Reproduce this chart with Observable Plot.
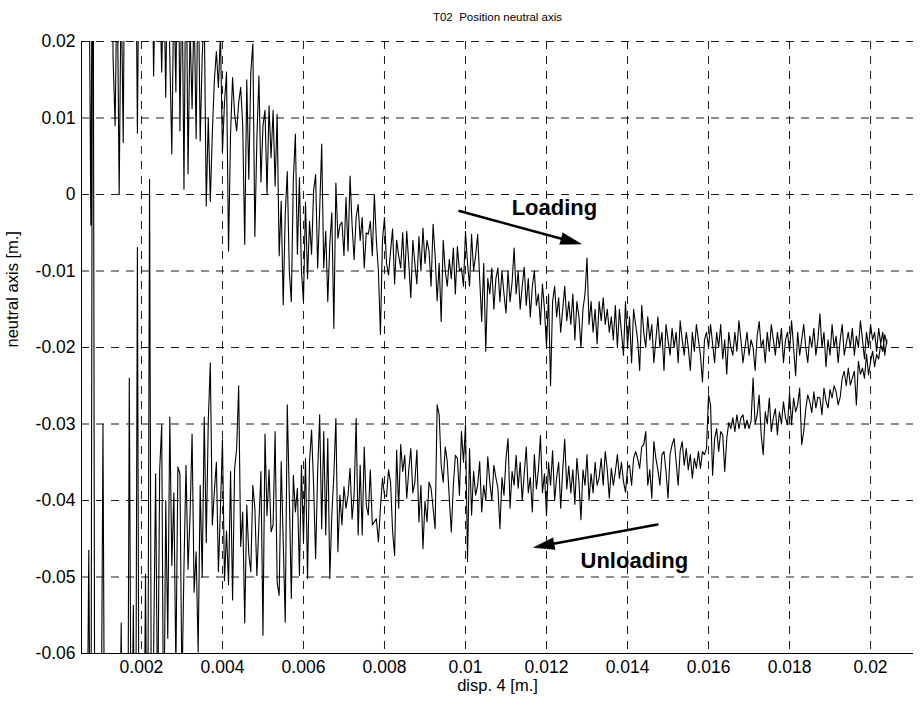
<!DOCTYPE html>
<html><head><meta charset="utf-8">
<script src="https://cdn.jsdelivr.net/npm/d3@7"></script>
<script src="https://cdn.jsdelivr.net/npm/@observablehq/plot@0.6"></script>
<style>body{margin:0;background:#fff}</style>
</head><body><div id="chart"></div>
<script>
// ---- data (values in millimetres) ----
const title = "T02\u00a0 Position neutral axis";
const xLabel = "disp. 4 [m.]";
const yLabel = "neutral axis [m.]";
const xTicks = [0.002, 0.004, 0.006, 0.008, 0.01, 0.012, 0.014, 0.016, 0.018, 0.02];
const xTickLabels = ["0.002", "0.004", "0.006", "0.008", "0.01", "0.012", "0.014", "0.016", "0.018", "0.02"];
const yTicks = [0.02, 0.01, 0, -0.01, -0.02, -0.03, -0.04, -0.05, -0.06];
const yTickLabels = ["0.02", "0.01", "0", "-0.01", "-0.02", "-0.03", "-0.04", "-0.05", "-0.06"];
const xDomain = [0.00052, 0.02106];
const yDomain = [-0.06, 0.02];
// displacement samples: first sample and regular increment (m)
const dispStart = 0.0006;
const dispStep = 0.00005;

const loadingMM = [
  45, 60, 38, -4, 50, 44, 52, 40, 48, 55,
  50, 42, 55, 48, 17.7, 9, 30, 0, 28, 6.8,
  45, 52, 40, 48, 55, 42, 8, 40, 50, 46,
  45, 40, 50, 38, 15.5, 30, 25, 28, 16, 30,
  12.7, 35, 18, 5.3, 28, 13.4, 40, 8.3, 30, 0.7,
  35, 2.7, 22, 11.2, 25, 7.3, 30, 7, 18, 24,
  -1.5, 10, -0.9, 8, 15, 18.7, 14, 21, 5.6, 12,
  16, -7.4, 8, 15.3, 10.5, 8.3, 12, 14, 9, -6.5,
  15, 2, 16, 19.7, -5.5, 7.4, 15.5, 1.6, 9, 11,
  0, 11.6, 4.8, 11, 1.1, 10.5, -8, -0.9, -14.4, -2.6,
  3, -10, -14, 2, 7.9, -7.8, 2.2, -10, -14, -1,
  -11, -3.5, -7.8, 0.5, 2.6, -9.6, -2, 6.6, -9.6, -4.8,
  -14, -6.5, -2.4, -17.5, 1.5, -5.7, -4, -3.6, -8, -0.4,
  -7.4, 2.4, -4, -8.5, -3, -1.3, -6, -3, -9.6, -5,
  -5.2, -3.5, -8, 0, -6, -10, -18.3, -6, -3, -9,
  -10.5, -7.4, -4.5, -11.7, -6, -8, -9.6, -5, -11, -4.8,
  -9, -13.5, -6, -9, -11.7, -5.5, -10, -4.4, -9, -6,
  -7.4, -12, -3.9, -8, -13.9, -9, -16.6, -6, -10, -12,
  -8.5, -11, -7, -13, -6.8, -10, -9.6, -12, -4.8, -9,
  -12, -5.2, -10, -8, -5.2, -11, -16.6, -9, -20.5, -11,
  -13, -9.6, -15, -11, -9.6, -14, -10, -13, -15.5, -10,
  -14, -11.5, -7, -13, -10, -15, -12, -9.5, -14.5, -11,
  -16, -12, -10, -14.5, -13, -17, -11.7, -15, -20, -13,
  -25, -14, -12, -16, -13.5, -18, -15, -12, -16.5, -14,
  -17, -13, -19, -14, -16, -20, -15, -13, -8.3, -17,
  -14, -18, -15, -19.5, -14, -16.5, -13.5, -17, -15, -18,
  -16, -19, -14.5, -20, -15, -18, -21, -14, -20, -16,
  -22, -15, -17, -19, -23, -14.5, -18, -20, -16, -19,
  -17, -22, -19, -16, -20, -18, -23, -17, -19, -21,
  -17.5, -20, -18, -22, -16.5, -19, -21, -18, -20, -23,
  -18, -20.5, -17, -19, -21, -24.5, -19, -18, -20, -17,
  -19.5, -22, -18, -20, -17, -21.5, -19, -23.5, -18, -20,
  -21, -18, -20.5, -16.5, -19, -22, -20, -18, -21, -19,
  -20, -23, -18.5, -16.6, -20, -19, -22, -18, -20.5, -17,
  -19, -21, -18, -20, -17.5, -22, -19, -18, -20.5, -16.5,
  -20, -23.7, -18, -21, -19, -17, -20, -22, -18.5, -20,
  -17.5, -21, -19, -15.6, -20, -18, -22.5, -19, -21, -17,
  -20, -18.5, -22, -19, -17, -21, -19.5, -18, -20, -17.5,
  -21, -18.5, -20, -16.5, -19, -21.5, -18, -20, -17, -19,
  -18, -20.5, -17.5, -19.5, -18, -21, -19
];

// unloading branch, listed in increasing displacement
const unloadingMM = [
  -90, -80, -46.5, -90, 60, -85, -75, -90, -80, -30,
  -90, -85, -95, -80, -88, -92, -85, -80, -56, -90,
  -85, -95, -24, -80, -53.7, -90, -6.9, -95, -70, -85,
  -49.6, -85, 2, -80, -60, -36.5, -70, -36, -30.1, -75,
  -40, -58, -29.1, -48.5, -39, -62, -35.6, -36.5, -65, -48.6,
  -35.4, -49, -42, -31.3, -52, -46.7, -59.8, -38, -50, -29.1,
  -45.5, -29.6, -22, -43.2, -38.8, -35, -49.3, -41, -32.1, -50.5,
  -44, -51, -36.2, -53, -35.8, -33.3, -25, -46, -41.5, -56,
  -40.6, -47, -49.3, -38, -41, -49.8, -43, -36.2, -57.6, -31.3,
  -42, -36, -44.1, -43.2, -31, -50.7, -52.4, -34.9, -45.4, -55.9,
  -27.5, -39.3, -52.8, -36.7, -41.5, -38.4, -49.8, -35.4, -45.4, -34.5,
  -50.2, -34.9, -30.8, -38, -47.6, -36.2, -28.8, -43.7, -31, -44.5,
  -31.9, -50.2, -41.9, -36.7, -29.3, -46.7, -39.3, -43.2, -38.2, -41,
  -39.3, -35.8, -42.4, -39.3, -29.3, -44.5, -35.4, -44.5, -33, -40.6,
  -41.9, -36, -43.2, -42.8, -42.4, -45.4, -41, -37.1, -39.3, -39.5,
  -36, -37.6, -44, -47.2, -33.4, -41, -32.7, -36.2, -34.1, -39.7,
  -36, -33.2, -39, -37.6, -33.4, -42.8, -38, -46.3, -40.1, -42.8,
  -37.6, -38.4, -41, -43.7, -27.5, -28.8, -35.4, -37.6, -33, -34.9,
  -39.7, -44.1, -38, -34.1, -34.5, -39.3, -31, -35, -30.1, -48,
  -33.2, -41.9, -36.2, -39.3, -38, -34.9, -41.5, -38, -40, -34.3,
  -37.6, -40, -35.4, -37, -38.4, -43.7, -37, -39.3, -34.5, -31.9,
  -41, -36.2, -38, -34.1, -38.4, -35, -40, -36.5, -33, -39,
  -37, -41.5, -34, -38.5, -36, -31.5, -39, -36.5, -42, -35,
  -38, -33.5, -40, -37, -35, -41, -36, -32, -38.5, -35.5,
  -39, -36, -40.5, -34.5, -37.5, -42.5, -36, -38, -34, -40,
  -36.5, -39, -35, -38, -37, -34.5, -38, -33.6, -36, -39.7,
  -35.8, -38, -36.2, -34, -37.1, -35, -37.5, -38.9, -35.8, -35.4,
  -38, -34.5, -33.6, -34.5, -35.8, -33, -32.7, -31, -38, -36,
  -39.7, -32.3, -34.5, -36, -38, -34, -33.6, -36.2, -39.7, -34,
  -32.7, -31.9, -34.9, -38, -33.5, -32.3, -35.4, -33.2, -36, -34,
  -37.1, -34.5, -35.8, -33.6, -35.8, -33.6, -34, -33.2, -26.2, -27.5,
  -36.7, -31.9, -30.6, -33.6, -31, -31.4, -36.2, -31.9, -29.8, -30.6,
  -29.2, -31, -28.8, -30.6, -29.2, -28.8, -30.6, -29.5, -30.6, -29.6,
  -24, -30.1, -28.8, -26.2, -31.4, -34, -28.4, -30, -26.6, -31,
  -29.2, -28, -31.4, -28.4, -30, -27.1, -29.2, -30.1, -26, -30.1,
  -26.6, -28.4, -27.5, -25.3, -32.7, -31, -28, -26.2, -27.1, -28.5,
  -25.8, -27.9, -26.5, -26.6, -28.8, -25.3, -27, -27.9, -25.5, -26.6,
  -25, -25.8, -27.5, -26.5, -24, -23.1, -25, -22.7, -24.9, -24,
  -23.1, -27.5, -21.8, -23.5, -22.7, -24, -20.9, -23.6, -21.8, -20.5,
  -22.5, -20.9, -21.5, -19.6, -20.5, -18.3, -19.5
];

const annotations = [
  {label: "Loading", x: 0.01114, y: -0.00175},
  {label: "Unloading", x: 0.01284, y: -0.04784}
];
const arrows = [
  {x1: 0.00985, y1: -0.00216, x2: 0.01286, y2: -0.00648},
  {x1: 0.01474, y1: -0.04313, x2: 0.01168, y2: -0.04614}
];

// ---- build table ----
const loading = loadingMM.map((v, i) => ({x: dispStart + i * dispStep, y: v / 1000}));
const unloading = unloadingMM.map((v, i) => ({x: dispStart + i * dispStep, y: v / 1000})).reverse();
const path = loading.concat(unloading);

const W = 923, H = 709, mL = 81, mR = 10, mT = 41, mB = 56;
const sx = d3.scaleLinear(xDomain, [mL, W - mR]);
const sy = d3.scaleLinear(yDomain, [H - mB, mT]);
const angle = d => Math.atan2(sx(d.x2) - sx(d.x1), -(sy(d.y2) - sy(d.y1))) * 180 / Math.PI;

const grid = {stroke: "black", strokeOpacity: 1, strokeWidth: 0.9, strokeDasharray: "8,7"};
const fmt = (ticks, labels) => d => labels[ticks.findIndex(t => Math.abs(t - d) < 1e-9)];

const chart = Plot.plot({
  width: W, height: H,
  marginLeft: mL, marginRight: mR, marginTop: mT, marginBottom: mB,
  style: {fontFamily: "'Liberation Sans', Arial, Helvetica, sans-serif", fontSize: "16px", background: "white", color: "black"},
  x: {domain: xDomain, label: null},
  y: {domain: yDomain, label: null},
  marks: [
    Plot.gridX(xTicks, grid),
    Plot.gridY(yTicks, grid),
    Plot.line(path, {x: "x", y: "y", stroke: "black", strokeWidth: 1.1, clip: true}),
    Plot.ruleX([xDomain[0]], {stroke: "black", strokeWidth: 1}),
    Plot.ruleY([yDomain[0]], {stroke: "black", strokeWidth: 1}),
    Plot.axisX(xTicks, {tickSize: 0, tickPadding: 7, tickFormat: fmt(xTicks, xTickLabels), fontSize: 17.5}),
    Plot.axisY(yTicks, {tickSize: 0, tickPadding: 6, tickFormat: fmt(yTicks, yTickLabels), fontSize: 17.5}),
    Plot.arrow(arrows, {x1: "x1", y1: "y1", x2: "x2", y2: "y2", stroke: "black", strokeWidth: 2.5, headLength: 0, insetEnd: 12}),
    Plot.vector(arrows, {x: "x2", y: "y2", rotate: angle, length: 21, r: 6, shape: "spike", anchor: "end", fill: "black", stroke: "black", strokeWidth: 0.5}),
    Plot.text(annotations, {x: "x", y: "y", text: "label", textAnchor: "start", lineAnchor: "middle", fontWeight: "bold", fontSize: 22}),
    Plot.text([title], {frameAnchor: "top", dy: -29, fontSize: 11.5}),
    Plot.text([xLabel], {frameAnchor: "bottom", dy: 37, fontSize: 16.5}),
    Plot.text([yLabel], {frameAnchor: "left", dx: -69, rotate: -90, fontSize: 16.5})
  ]
});
document.getElementById("chart").appendChild(chart);
</script></body></html>
